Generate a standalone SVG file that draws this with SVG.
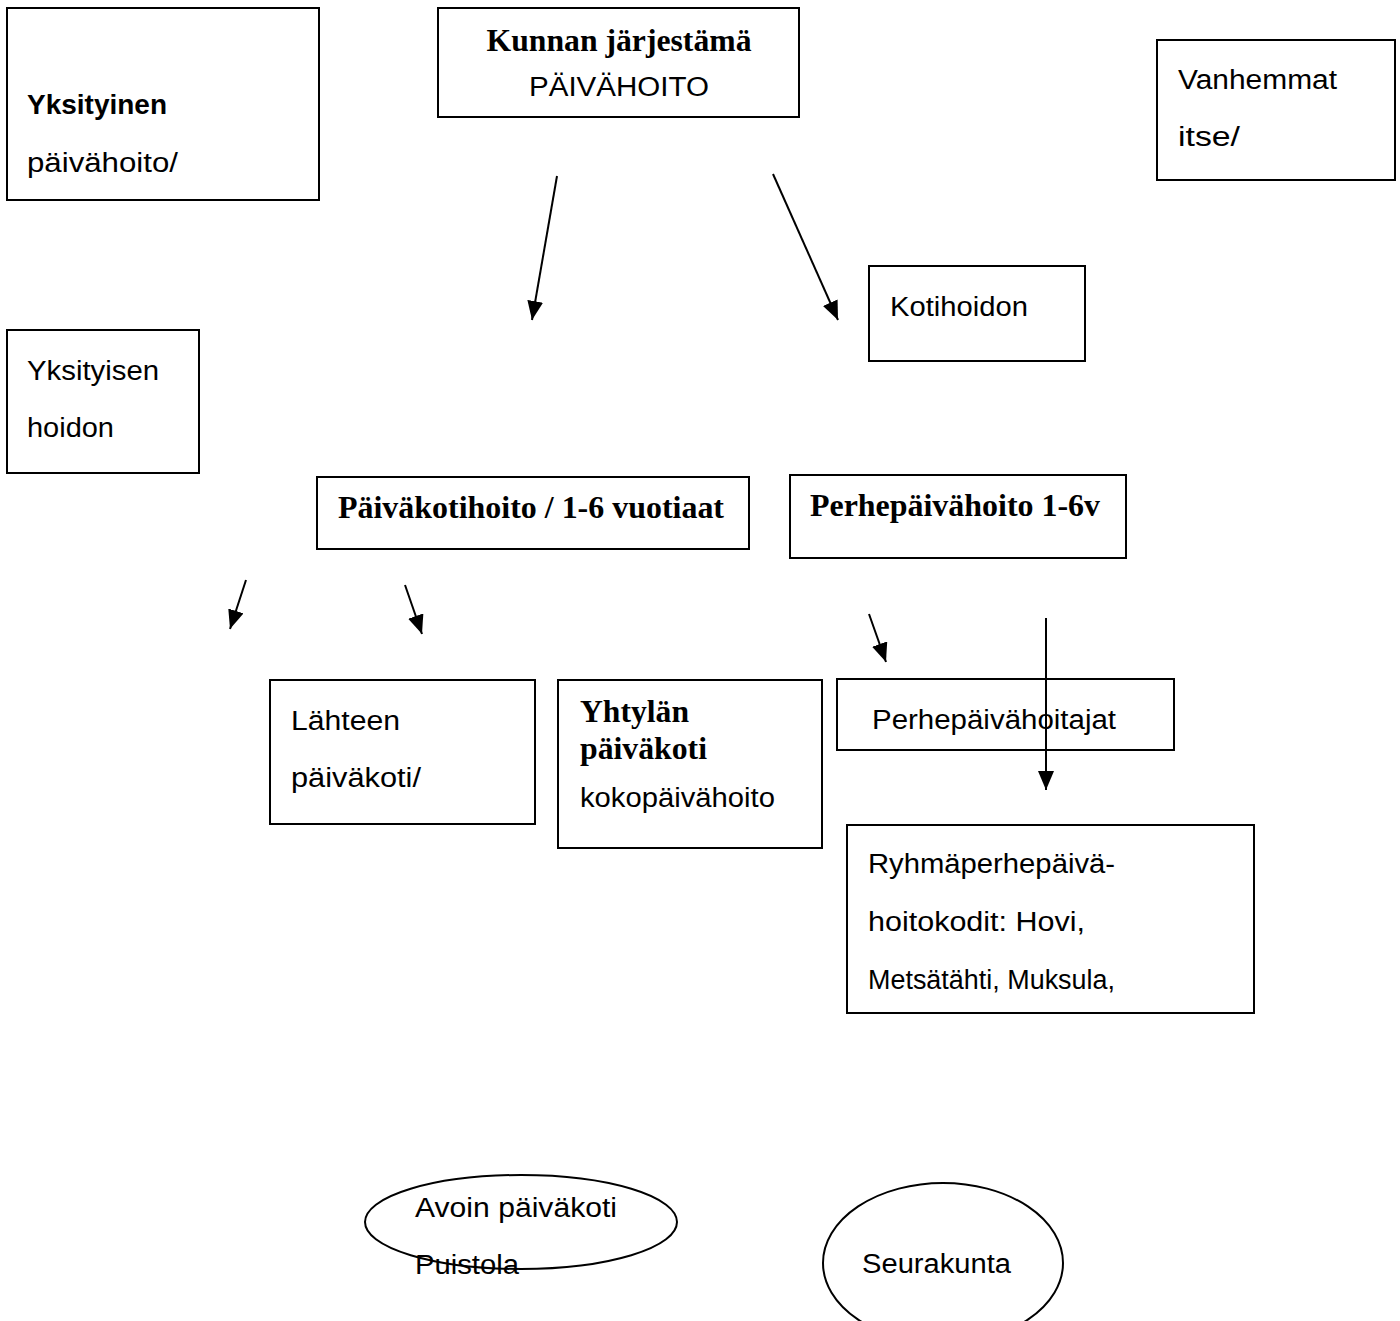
<svg xmlns="http://www.w3.org/2000/svg" width="1400" height="1321" viewBox="0 0 1400 1321">
<style>
.box{fill:#fff;stroke:#000;stroke-width:2}
.s{font-family:"Liberation Sans",Arial,sans-serif;font-size:27px;fill:#000}
.sb{font-family:"Liberation Sans",Arial,sans-serif;font-size:27px;font-weight:bold;fill:#000}
.t{font-family:"Liberation Serif","Times New Roman",serif;font-size:32px;font-weight:bold;fill:#000}
.c{stroke:#000;stroke-width:2;fill:none}
</style>
<defs>
<marker id="ah" markerUnits="userSpaceOnUse" markerWidth="22" markerHeight="16" refX="19" refY="8" orient="auto">
<path d="M0,0 L19,8 L0,16 Z" fill="#000"/>
</marker>
</defs>
<rect width="1400" height="1321" fill="#fff"/>
<g id="n-yksityinen"><rect class="box" x="7" y="8" width="312" height="192"/><text class="sb" x="27" y="114" textLength="140" lengthAdjust="spacingAndGlyphs">Yksityinen</text><text class="s" x="27" y="172" textLength="151" lengthAdjust="spacingAndGlyphs">päivähoito/</text></g>
<g id="n-kunnan"><rect class="box" x="438" y="8" width="361" height="109"/><text class="t" x="619" y="51" text-anchor="middle" textLength="265" lengthAdjust="spacingAndGlyphs">Kunnan järjestämä</text><text class="s" x="619" y="96" text-anchor="middle" textLength="180" lengthAdjust="spacingAndGlyphs">PÄIVÄHOITO</text></g>
<g id="n-vanhemmat"><rect class="box" x="1157" y="40" width="238" height="140"/><text class="s" x="1178" y="89" textLength="159" lengthAdjust="spacingAndGlyphs">Vanhemmat</text><text class="s" x="1178" y="146" textLength="62" lengthAdjust="spacingAndGlyphs">itse/</text></g>
<g id="n-kotihoidon"><rect class="box" x="869" y="266" width="216" height="95"/><text class="s" x="890" y="316" textLength="138" lengthAdjust="spacingAndGlyphs">Kotihoidon</text></g>
<g id="n-yksityisen"><rect class="box" x="7" y="330" width="192" height="143"/><text class="s" x="27" y="380" textLength="132" lengthAdjust="spacingAndGlyphs">Yksityisen</text><text class="s" x="27" y="437" textLength="87" lengthAdjust="spacingAndGlyphs">hoidon</text></g>
<g id="n-paivakotihoito"><rect class="box" x="317" y="477" width="432" height="72"/><text class="t" x="531" y="518" text-anchor="middle" textLength="386" lengthAdjust="spacingAndGlyphs">Päiväkotihoito / 1-6 vuotiaat</text></g>
<g id="n-perhepaivahoito"><rect class="box" x="790" y="475" width="336" height="83"/><text class="t" x="810" y="516" textLength="290" lengthAdjust="spacingAndGlyphs">Perhepäivähoito 1-6v</text></g>
<g id="n-lahteen"><rect class="box" x="270" y="680" width="265" height="144"/><text class="s" x="291" y="730" textLength="109" lengthAdjust="spacingAndGlyphs">Lähteen</text><text class="s" x="291" y="787" textLength="130" lengthAdjust="spacingAndGlyphs">päiväkoti/</text></g>
<g id="n-yhtylan"><rect class="box" x="558" y="680" width="264" height="168"/><text class="t" x="580" y="722" textLength="109" lengthAdjust="spacingAndGlyphs">Yhtylän</text><text class="t" x="580" y="759" textLength="127" lengthAdjust="spacingAndGlyphs">päiväkoti</text><text class="s" x="580" y="807" textLength="195" lengthAdjust="spacingAndGlyphs">kokopäivähoito</text></g>
<g id="n-perhepaivahoitajat"><rect class="box" x="837" y="679" width="337" height="71"/><text class="s" x="872" y="729" textLength="244" lengthAdjust="spacingAndGlyphs">Perhepäivähoitajat</text></g>
<g id="n-ryhma"><rect class="box" x="847" y="825" width="407" height="188"/><text class="s" x="868" y="873" textLength="247" lengthAdjust="spacingAndGlyphs">Ryhmäperhepäivä-</text><text class="s" x="868" y="931" textLength="217" lengthAdjust="spacingAndGlyphs">hoitokodit: Hovi,</text><text class="s" x="868" y="989" textLength="247" lengthAdjust="spacingAndGlyphs">Metsätähti, Muksula,</text></g>
<g id="n-avoin"><ellipse class="c" cx="521" cy="1222" rx="156" ry="47"/><text class="s" x="415" y="1217" textLength="202" lengthAdjust="spacingAndGlyphs">Avoin päiväkoti</text><text class="s" x="415" y="1274" textLength="104" lengthAdjust="spacingAndGlyphs">Puistola</text></g>
<g id="n-seurakunta"><ellipse class="c" cx="943" cy="1263" rx="120" ry="80"/><text class="s" x="862" y="1273" textLength="149" lengthAdjust="spacingAndGlyphs">Seurakunta</text></g>
<g id="connectors">
<line class="c" x1="557" y1="176" x2="532" y2="320" marker-end="url(#ah)"/>
<line class="c" x1="773" y1="174" x2="838" y2="320" marker-end="url(#ah)"/>
<line class="c" x1="246" y1="580" x2="230" y2="629" marker-end="url(#ah)"/>
<line class="c" x1="405" y1="585" x2="422" y2="634" marker-end="url(#ah)"/>
<line class="c" x1="869" y1="614" x2="886" y2="662" marker-end="url(#ah)"/>
<line class="c" x1="1046" y1="618" x2="1046" y2="790" marker-end="url(#ah)"/>
</g>
</svg>
